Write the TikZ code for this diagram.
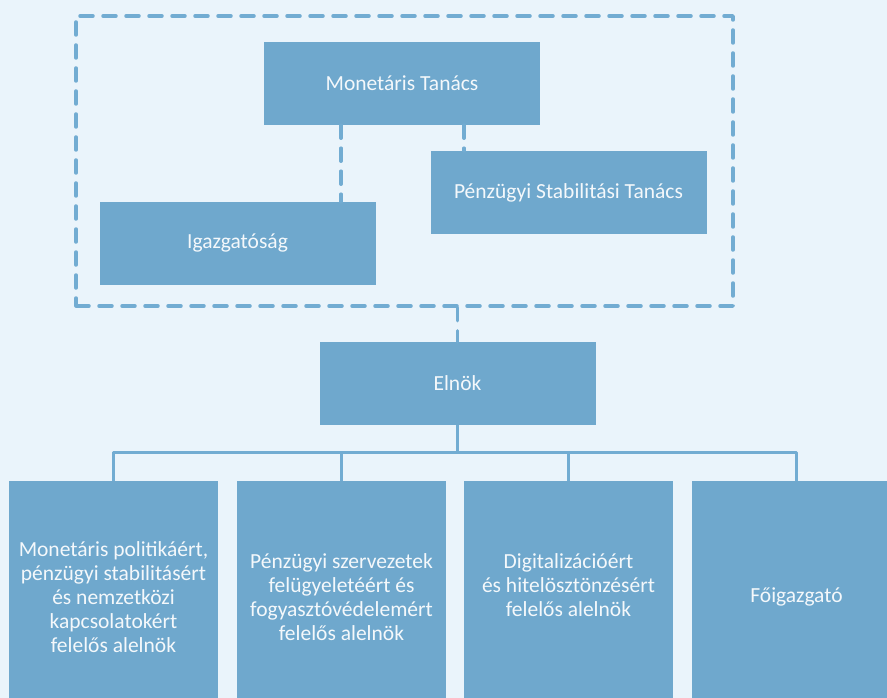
\documentclass[tikz,border=0pt]{standalone}
\usepackage{fontspec}
\setmainfont{Carlito}
\usetikzlibrary{calc}
\definecolor{bg}{HTML}{EAF4FB}
\definecolor{boxc}{HTML}{6FA8CD}
\definecolor{linec}{HTML}{72ACD2}
\definecolor{txt}{HTML}{F4F8FB}
\begin{document}
\begin{tikzpicture}[x=1pt,y=-1pt,
  orgbox/.style={fill=boxc,draw=none,text=txt,align=center,font=\fontsize{21.5}{24}\selectfont,inner sep=0pt},
  topbox/.style={orgbox,minimum width=276,minimum height=83},
  lowbox/.style={orgbox,minimum width=209,minimum height=232},
  dashline/.style={draw=linec,line width=3.5,line cap=round,dash pattern=on 13 off 10},
  solidline/.style={draw=linec,line width=3}]
\fill[bg] (0,0) rectangle (887,698);
\useasboundingbox (0,0) rectangle (887,698);
\node[draw=linec,line width=3.5,line cap=round,line join=round,dash pattern=on 13 off 10,minimum width=657,minimum height=290,inner sep=0pt] (frame) at (404.5,161) {};
\node[topbox] (mt) at (402,83.5) {Monetáris Tanács};
\node[topbox] (pst) at (568.5,192.5) {Pénzügyi Stabilitási Tanács};
\node[topbox] (ig) at (237.5,243.5) {Igazgatóság};
\node[topbox] (el) at (457.5,383.5) {Elnök};
\coordinate (c1) at (341,0);
\coordinate (c2) at (464,0);
\draw[dashline] (mt.south -| c1) -- (ig.north -| c1);
\draw[dashline] (mt.south -| c2) -- (pst.north -| c2);
\draw[dashline] (frame.south -| el) -- (el.north);
\node[lowbox] (b1) at (113.5,597) {Monetáris politikáért,\\pénzügyi stabilitásért\\és nemzetközi\\kapcsolatokért\\felelős alelnök};
\node[lowbox] (b2) at (341.5,597) {Pénzügyi szervezetek\\felügyeletéért és\\fogyasztóvédelemért\\felelős alelnök};
\node[lowbox] (b3) at (568.5,597) {Digitalizációért\\és hitelösztönzésért\\felelős alelnök\\\mbox{}};
\node[lowbox] (b4) at (796.5,597) {Főigazgató};
\coordinate (bus) at (0,452);
\draw[solidline] (el.south) -- (el.south |- bus);
\draw[solidline,line join=round] (b1.north) -- (b1.north |- bus) -- (b4.north |- bus) -- (b4.north);
\draw[solidline] (b2.north) -- (b2.north |- bus);
\draw[solidline] (b3.north) -- (b3.north |- bus);
\end{tikzpicture}
\end{document}
